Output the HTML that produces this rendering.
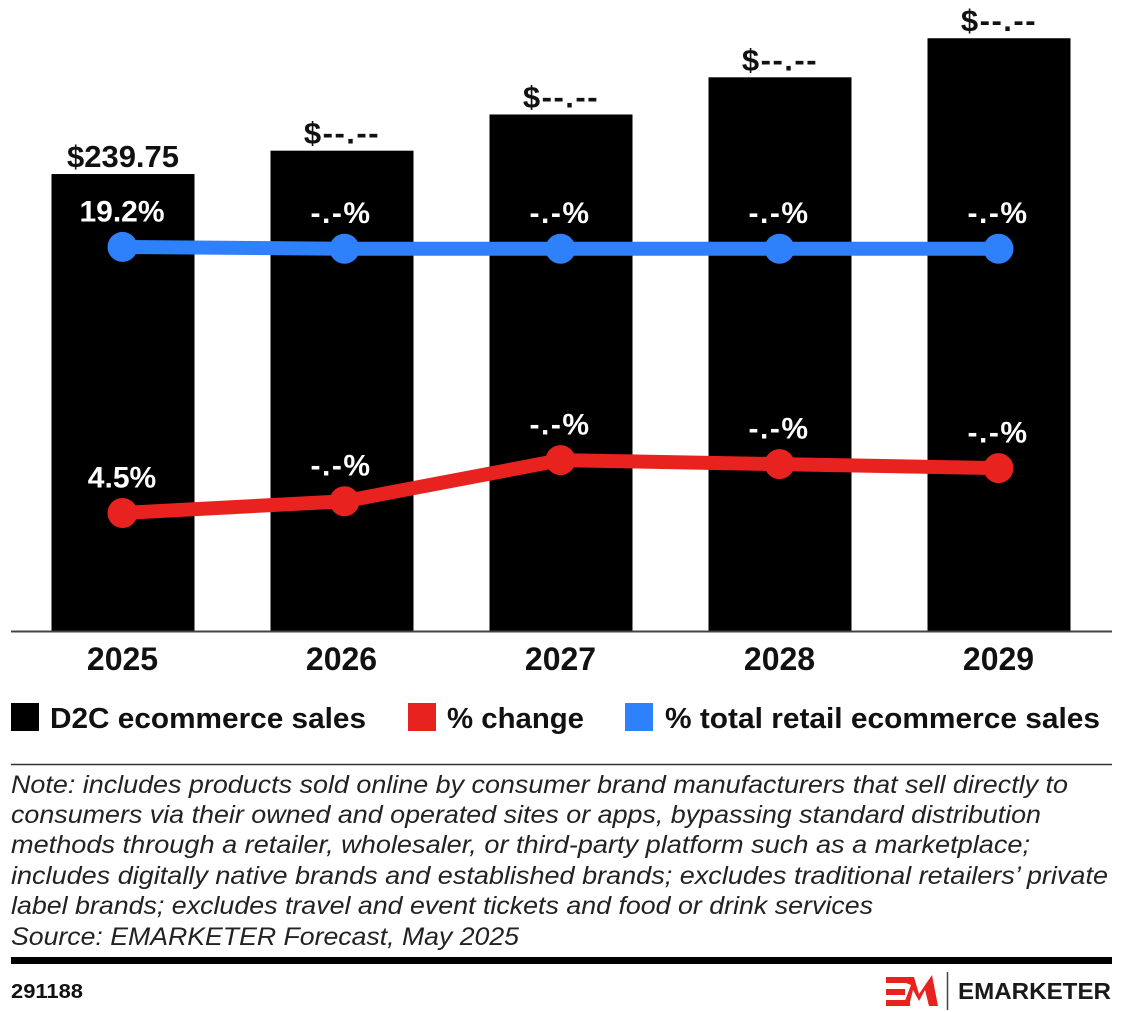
<!DOCTYPE html>
<html lang="en">
<head>
<meta charset="utf-8">
<title>D2C ecommerce sales</title>
<style>
html,body{margin:0;padding:0;background:#fff;width:1124px;height:1012px;overflow:hidden}
svg{display:block;font-family:"Liberation Sans",Arial,sans-serif}
</style>
</head>
<body>
<svg id="chart" xmlns="http://www.w3.org/2000/svg" width="1124" height="1012" viewBox="0 0 1124 1012">
  <rect x="0" y="0" width="1124" height="1012" fill="#fff"/>
  <g id="bars"></g>
  <line x1="11" y1="631.5" x2="1112" y2="631.5" stroke="#444" stroke-width="2"/>
  <g id="ticks"></g>
  <g id="lines"></g>

  <g>
    <g>
      <rect x="11" y="703" width="28" height="28" fill="#000"/>
      <text x="50" y="728" font-size="29" font-weight="700" fill="#111" textLength="316" lengthAdjust="spacingAndGlyphs">D2C ecommerce sales</text>
    </g>
    <g>
      <rect x="408" y="703" width="28" height="28" fill="#e8231f"/>
      <text x="447" y="728" font-size="29" font-weight="700" fill="#111" textLength="137" lengthAdjust="spacingAndGlyphs">% change</text>
    </g>
    <g>
      <rect x="625" y="703" width="28" height="28" fill="#2f80fb"/>
      <text x="665" y="728" font-size="29" font-weight="700" fill="#111" textLength="435" lengthAdjust="spacingAndGlyphs">% total retail ecommerce sales</text>
    </g>
  </g>

  <line x1="11" y1="764.5" x2="1112" y2="764.5" stroke="#333" stroke-width="1.5"/>
  <g font-size="25" font-style="italic" fill="#222">
    <text x="11" y="793" textLength="1057" lengthAdjust="spacingAndGlyphs">Note: includes products sold online by consumer brand manufacturers that sell directly to</text>
    <text x="11" y="823" textLength="1030" lengthAdjust="spacingAndGlyphs">consumers via their owned and operated sites or apps, bypassing standard distribution</text>
    <text x="11" y="853" textLength="1019" lengthAdjust="spacingAndGlyphs">methods through a retailer, wholesaler, or third-party platform such as a marketplace;</text>
    <text x="11" y="884" textLength="1097" lengthAdjust="spacingAndGlyphs">includes digitally native brands and established brands; excludes traditional retailers’ private</text>
    <text x="11" y="914" textLength="862" lengthAdjust="spacingAndGlyphs">label brands; excludes travel and event tickets and food or drink services</text>
    <text x="11" y="945" textLength="508" lengthAdjust="spacingAndGlyphs">Source: EMARKETER Forecast, May 2025</text>
  </g>

  <rect x="11" y="957" width="1101" height="7" fill="#000"/>
  <text x="11" y="998" font-size="20" font-weight="700" fill="#111" textLength="72" lengthAdjust="spacingAndGlyphs">291188</text>
  <g>
    <rect x="886" y="977" width="22" height="6" fill="#e8231f"/>
    <rect x="886" y="989" width="19" height="6" fill="#e8231f"/>
    <rect x="886" y="1000" width="24" height="6" fill="#e8231f"/>
    <polygon fill="#e8231f" points="906,977 914,977 919,994 932,975 938,1006 929,1006 925,990 919,1001 913,990 909,1006 903,1006 911,985 906,983"/>
    <line x1="947.5" y1="972" x2="947.5" y2="1010" stroke="#444" stroke-width="1.5"/>
    <text x="958" y="999" font-size="23" font-weight="700" fill="#1a1a1a" textLength="153" lengthAdjust="spacingAndGlyphs">EMARKETER</text>
  </g>
</svg>

<script>
var categories = ['2025', '2026', '2027', '2028', '2029'];
var salesValues = [239.75, 252, 271, 290.5, 311];
var salesLabels = ['$239.75', '$--.--', '$--.--', '$--.--', '$--.--'];
var changeValues = [4.5, 5.15, 7.42, 7.2, 6.98];
var changeLabels = ['4.5%', '-.-%', '-.-%', '-.-%', '-.-%'];
var retailShareValues = [19.2, 19.1, 19.1, 19.1, 19.1];
var retailShareLabels = ['19.2%', '-.-%', '-.-%', '-.-%', '-.-%'];

var NS = 'http://www.w3.org/2000/svg';
var BAR_WIDTH = 143;
var BASELINE = 631;

function xBand(i) { return 123 + 219 * i; }
function xPoint(i) { return 122.5 + 219 * i + (i === 1 ? 3 : 0); }
function ySales(v) { return BASELINE - v * 1.906; }
function yPct(v) { return 513 - (v - 4.5) * 18.1; }
function placeholderSpacing(label) { return label.indexOf('-') >= 0 ? 1.5 : 0; }

function make(tag, parent, attrs, text) {
  var el = document.createElementNS(NS, tag);
  for (var k in attrs) el.setAttribute(k, attrs[k]);
  if (text !== undefined) el.textContent = text;
  parent.appendChild(el);
  return el;
}

var barsLayer = document.getElementById('bars');
var ticksLayer = document.getElementById('ticks');
var linesLayer = document.getElementById('lines');

categories.forEach(function (cat, i) {
  var top = ySales(salesValues[i]);
  var bar = make('rect', barsLayer, {
    x: xBand(i) - BAR_WIDTH / 2, y: top, width: BAR_WIDTH, height: BASELINE - top, fill: '#000'
  });
  
  

  var barLabel = make('text', barsLayer, {
    x: xBand(i), y: top - 7, 'text-anchor': 'middle', 'font-size': 31, 'font-weight': 700, fill: '#111',
    'letter-spacing': placeholderSpacing(salesLabels[i])
  }, salesLabels[i]);
  
  

  var tick = make('text', ticksLayer, {
    x: xBand(i) - 0.5, y: 670, 'text-anchor': 'middle', 'font-size': 32, 'font-weight': 700, fill: '#111'
  }, cat);
  
  
});

function drawSeries(key, values, labels, color) {
  var pts = values.map(function (v, i) { return xPoint(i) + ',' + yPct(v); }).join(' ');
  var line = make('polyline', linesLayer, {
    points: pts, fill: 'none', stroke: color, 'stroke-width': 14, 'stroke-linejoin': 'round'
  });
  
  

  values.forEach(function (v, i) {
    var dot = make('circle', linesLayer, { cx: xPoint(i), cy: yPct(v), r: 15, fill: color });
    
    

    var label = make('text', linesLayer, {
      x: xBand(i) - 1, y: yPct(v) - 25.5, 'text-anchor': 'middle', 'font-size': 30, 'font-weight': 700, fill: '#fff',
      'letter-spacing': placeholderSpacing(labels[i])
    }, labels[i]);
    
    
  });
}

drawSeries('retail-share', retailShareValues, retailShareLabels, '#2f80fb');
drawSeries('change', changeValues, changeLabels, '#e8231f');
</script>
</body>
</html>
